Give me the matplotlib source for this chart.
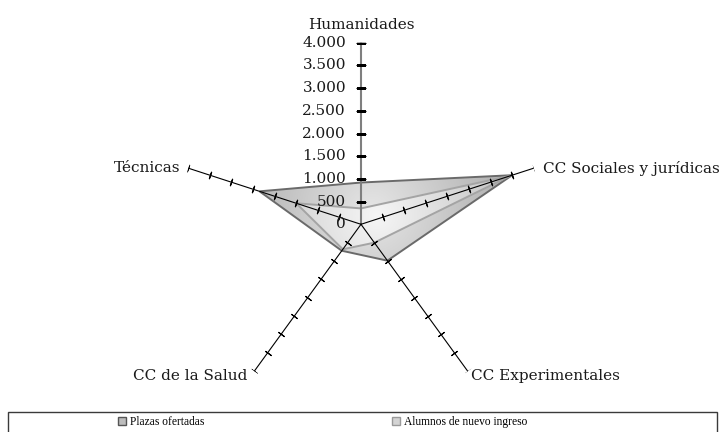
import numpy as np
import matplotlib
matplotlib.use("Agg")
import matplotlib.pyplot as plt
from matplotlib.patches import Patch, Rectangle

# ---- data ----
categories = ["Humanidades", "CC Sociales y jurídicas", "CC Experimentales",
              "CC de la Salud", "Técnicas"]
plazas = [920, 3500, 990, 720, 2350]
alumnos = [350, 3450, 500, 680, 1500]
series_names = ["Plazas ofertadas", "Alumnos de nuevo ingreso"]
tick_values = [0, 500, 1000, 1500, 2000, 2500, 3000, 3500, 4000]
tick_labels = ["0", "500", "1.000", "1.500", "2.000", "2.500", "3.000", "3.500", "4.000"]
rmax = 4000

W, H = 723, 432
fig = plt.figure(figsize=(W / 100, H / 100), dpi=100)
cx, cy, R = 361, 224.3, 181.6
pos = [(cx - R) / W, 1 - (cy + R) / H, 2 * R / W, 2 * R / H]

# gradient axes (underneath)
ax2 = fig.add_axes(pos)
ax2.set_xlim(-rmax, rmax)
ax2.set_ylim(-rmax, rmax)
ax2.set_axis_off()
ax2.set_zorder(1)

ax = fig.add_axes(pos, projection="polar")
ax.set_zorder(2)
ax.set_theta_zero_location("N")
ax.set_theta_direction(-1)
ax.set_ylim(0, rmax)
ax.set_axis_off()

n = len(categories)
theta = np.arange(n) * 2 * np.pi / n

gx, gy = np.meshgrid(np.linspace(-rmax, rmax, 700), np.linspace(-rmax, rmax, 700))


def gradient_fill(vals, edge, lw, c_center, c_edge):
    th = np.r_[theta, theta[0]]
    vv = np.r_[vals, vals[0]]
    poly = ax.fill(th, vv, facecolor="none", edgecolor=edge, linewidth=lw, zorder=3)[0]
    xs = np.array(vals) * np.sin(theta)
    ys = np.array(vals) * np.cos(theta)
    mx, my = xs.mean(), ys.mean()
    dmax = np.max(np.hypot(xs - mx, ys - my))
    d = np.clip(np.hypot(gx - mx, gy - my) / dmax, 0, 1)
    c0 = np.array(matplotlib.colors.to_rgb(c_center))
    c1 = np.array(matplotlib.colors.to_rgb(c_edge))
    img = c0[None, None, :] * (1 - d[..., None]) + c1[None, None, :] * d[..., None]
    im = ax2.imshow(img, extent=(-rmax, rmax, -rmax, rmax), origin="lower",
                    interpolation="bilinear")
    im.set_clip_path(poly)
    return poly


gradient_fill(plazas, "#6a6a6a", 1.4, "#e6e6e6", "#adadad")
gradient_fill(alumnos, "#a4a4a4", 1.4, "#f6f6f6", "#c2c2c2")

# axes lines and ticks
for i, t in enumerate(theta):
    phi = 90 - np.degrees(t)
    if i == 0:
        ax.plot([t, t], [0, rmax], color="#7f7f7f", lw=1.5, zorder=4)
        ax.plot([t] * (len(tick_values) - 1), tick_values[1:], ls="none",
                marker="_", ms=7, mec="black", mew=0.75, zorder=5)
    else:
        ax.plot([t, t], [0, rmax], color="black", lw=0.8, zorder=4)
        ax.plot([t] * (len(tick_values) - 1), tick_values[1:], ls="none",
                marker=(2, 2, phi), ms=5.5, mec="black", mew=0.8, zorder=5)

font = dict(family="DejaVu Serif", size=11, color="#1a1a1a")

# radial tick labels
for v, lab in zip(tick_values, tick_labels):
    ax.annotate(lab, xy=(0, v), xytext=(-15, 0), textcoords="offset pixels",
                ha="right", va="center", **font, zorder=6)

# category labels
offsets = [((0, 18), "center", "center"),
           ((9, 0), "left", "center"),
           ((3, -5), "left", "center"),
           ((-7, -5), "right", "center"),
           ((-8, 0), "right", "center")]
for t, lab, (off, ha, va) in zip(theta, categories, offsets):
    ax.annotate(lab, xy=(t, rmax), xytext=off, textcoords="offset pixels",
                ha=ha, va=va, **font, annotation_clip=False)

# legend frame
fig.add_artist(Rectangle((8 / W, -0.05), (717 - 8) / W, (1 - 412 / H) + 0.05,
                         transform=fig.transFigure, fill=False,
                         edgecolor="#3a3a3a", lw=1.0))
leg_font = dict(family="Liberation Serif", size=8.3)
handles = [Patch(facecolor="#bdbdbd", edgecolor="#555555", lw=1.0),
           Patch(facecolor="#d4d4d4", edgecolor="#9a9a9a", lw=1.0)]
for h, name, x in zip(handles, series_names, [118, 392]):
    fig.legend(handles=[h], labels=[name], loc="center left",
               bbox_to_anchor=(x / W, 1 - 422 / H), frameon=False,
               handlelength=0.7, handleheight=0.7, handletextpad=0.35,
               borderpad=0, borderaxespad=0, prop=leg_font)

fig.savefig("out.png", dpi=100)
